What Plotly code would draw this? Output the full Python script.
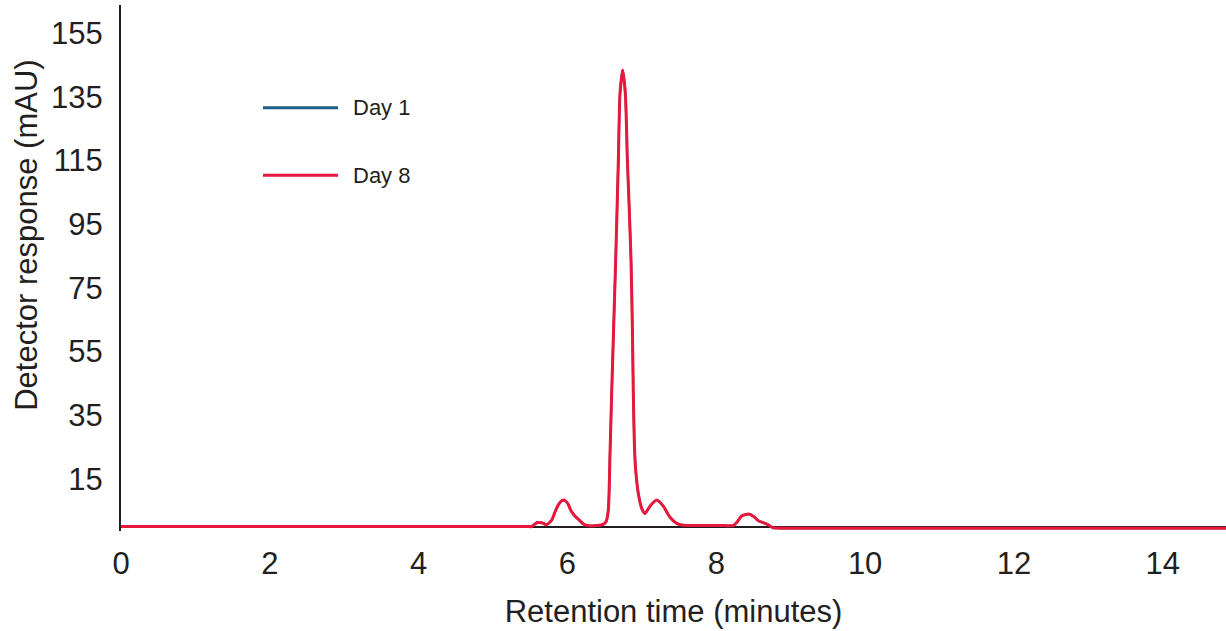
import plotly.graph_objects as go

# Retention time (minutes) and detector response (mAU)
time_min = [0.0, 5.45, 5.52, 5.586, 5.654, 5.721, 5.788, 5.833, 5.877, 5.922, 5.958,
            6.003, 6.043, 6.088, 6.146, 6.213, 6.267, 6.40, 6.482, 6.518, 6.549,
            6.572, 6.594, 6.621, 6.648, 6.684, 6.706, 6.742, 6.778, 6.805, 6.831,
            6.854, 6.872, 6.885, 6.899, 6.917, 6.952, 6.998, 7.042, 7.109, 7.199,
            7.288, 7.378, 7.468, 7.557, 7.70, 8.10, 8.229, 8.283, 8.341, 8.431, 8.507,
            8.565, 8.632, 8.699, 8.766, 8.85, 9.0, 14.9, 15.0]
day8_mau = [0.0, 0.0, 0.0, 1.2, 1.2, 0.6, 2.0, 4.6, 6.8, 8.1, 8.3,
            7.3, 5.2, 3.6, 2.3, 0.8, 0.3, 0.3, 0.7, 1.5, 5.2,
            23.0, 41.8, 62.8, 83.7, 115.1, 136.0, 143.4, 136.0, 115.1, 99.4,
            83.7, 62.8, 41.8, 26.1, 17.7, 10.4, 5.7, 4.1, 6.4, 8.3,
            6.4, 2.9, 1.0, 0.4, 0.3, 0.3, 0.3, 1.5, 3.3, 3.9, 3.1,
            1.8, 1.2, 0.5, -0.4, -0.5, -0.5, -0.5, -0.5]
# Day 1 trace lies fully underneath Day 8 in the chart
day1_mau = list(day8_mau)

series_names = ["Day 1", "Day 8"]
series_colors = ["#1B5E8C", "#E8173C"]
series_widths = [2.2, 3]

x_ticks = [0, 2, 4, 6, 8, 10, 12, 14]
y_ticks = [15, 35, 55, 75, 95, 115, 135, 155]

TEXT = "#231F20"
FONT = "Liberation Sans, Arial, sans-serif"

fig = go.Figure()
for name, vals, col, w in zip(series_names, [day1_mau, day8_mau], series_colors, series_widths):
    fig.add_trace(go.Scatter(
        x=time_min, y=vals, mode="lines", name=name,
        line=dict(color=col, width=w, shape="spline", smoothing=0.6),
        showlegend=False, hoverinfo="x+y+name",
    ))

# Manual legend (long line samples as in the reference)
legend_y = [0.8046, 0.6762]
for name, col, ly in zip(series_names, series_colors, legend_y):
    fig.add_shape(type="line", xref="paper", yref="paper",
                  x0=0.1285, x1=0.1964, y0=ly, y1=ly,
                  line=dict(color=col, width=3))
    fig.add_annotation(xref="paper", yref="paper", x=0.2085, y=ly,
                       text=name, showarrow=False, xanchor="left", yanchor="middle",
                       font=dict(family=FONT, size=22, color=TEXT))

# Y-axis title (placed above the axis centre, as in the reference)
fig.add_annotation(xref="paper", yref="paper", x=-0.0851, y=0.563,
                   text="Detector response (mAU)", showarrow=False, textangle=-90,
                   xanchor="center", yanchor="middle",
                   font=dict(family=FONT, size=31, color=TEXT))

fig.update_layout(
    width=1226, height=631,
    margin=dict(l=121, r=0, t=5, b=100, pad=0),
    paper_bgcolor="white", plot_bgcolor="white",
    showlegend=False,
    xaxis=dict(
        range=[0, 14.85], tickvals=x_ticks, ticktext=[str(v) for v in x_ticks],
        showgrid=False, zeroline=False, showline=False,
        ticks="outside", ticklen=5, tickcolor="rgba(0,0,0,0)",
        tickfont=dict(family=FONT, size=31, color=TEXT),
        title=dict(text="Retention time (minutes)", standoff=20,
                   font=dict(family=FONT, size=31, color=TEXT)),
        automargin=False,
    ),
    yaxis=dict(
        range=[-1.4, 163.8], tickvals=y_ticks, ticktext=[str(v) for v in y_ticks],
        showgrid=False, zeroline=True, zerolinecolor=TEXT, zerolinewidth=1.5,
        showline=True, linecolor=TEXT, linewidth=2,
        ticks="outside", ticklen=10, tickcolor="rgba(0,0,0,0)",
        tickfont=dict(family=FONT, size=31, color=TEXT),
        automargin=False,
    ),
)

fig.write_html("out.html", config={"displayModeBar": False},
               post_script="document.body.style.margin='0';document.body.style.padding='0';")
